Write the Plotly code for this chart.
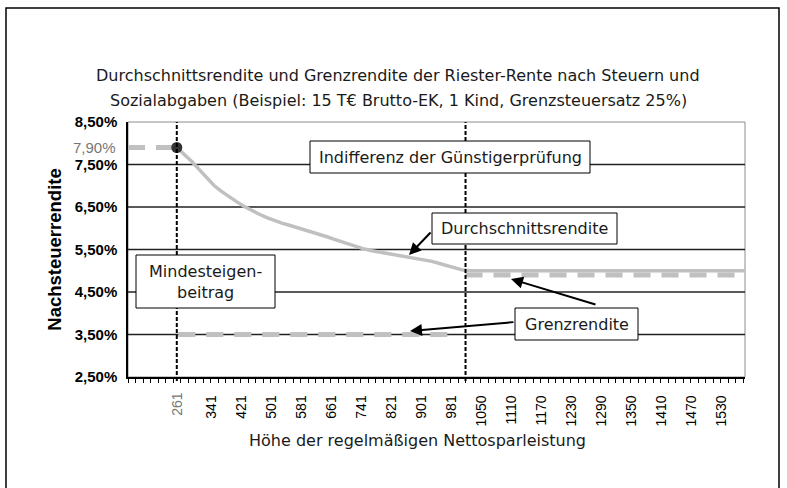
import numpy as np
import plotly.graph_objects as go

# ---------------- data ----------------
# x categories: regular net saving amount (EUR)
CATS = [141, 161, 181, 201, 221, 241,
        261, 281, 301, 321, 341, 361, 381, 401, 421, 441, 461, 481, 501, 521,
        541, 561, 581, 601, 621, 641, 661, 681, 701, 721, 741, 761, 781, 801,
        821, 841, 861, 881, 901, 921, 941, 961, 981,
        1000, 1020, 1035,
        1050, 1065, 1080, 1095, 1110, 1125, 1140, 1155, 1170, 1185, 1200, 1215,
        1230, 1245, 1260, 1275, 1290, 1305, 1320, 1335, 1350, 1365, 1380, 1395,
        1410, 1425, 1440, 1455, 1470, 1485, 1500, 1515, 1530, 1545, 1560, 1575,
        1590]

TICK_LABELS = ["341", "421", "501", "581", "661", "741", "821", "901", "981",
               "1050", "1110", "1170", "1230", "1290", "1350", "1410", "1470", "1530"]

Y_TICKS = [2.5, 3.5, 4.5, 5.5, 6.5, 7.5, 8.5]
Y_TICK_TEXT = ["2,50%", "3,50%", "4,50%", "5,50%", "6,50%", "7,50%", "8,50%"]
GRID_VALUES = [3.5, 4.5, 5.5, 6.5, 7.5]

# Durchschnittsrendite (%), categories from 261 onward
AVG_X = CATS[6:]
AVG_Y = [7.90, 7.74, 7.57, 7.38, 7.18, 7.00, 6.86, 6.73, 6.62, 6.51,
         6.41, 6.33, 6.25, 6.18, 6.12, 6.07, 6.02, 5.97, 5.92, 5.86,
         5.80, 5.74, 5.68, 5.62, 5.56, 5.51, 5.47, 5.44, 5.41, 5.38,
         5.35, 5.32, 5.29, 5.26, 5.22, 5.17, 5.12, 5.07, 5.02,
         5.00, 5.00, 5.00, 5.00, 5.00, 5.00, 5.00, 5.00, 5.00, 5.00,
         5.00, 5.00, 5.00, 5.00, 5.00, 5.00, 5.00, 5.00, 5.00, 5.00,
         5.00, 5.00, 5.00, 5.00, 5.00, 5.00, 5.00, 5.00, 5.00, 5.00,
         5.00, 5.00, 5.00, 5.00, 5.00, 5.00, 5.00, 5.00]

# Grenzrendite (%) – three flat segments
MARG_A_X = [131, 255]
MARG_A_Y = [7.90, 7.90]
MARG_B_X = [265, 990]
MARG_B_Y = [3.50, 3.50]
MARG_C_X = [1027, 1582]
MARG_C_Y = [4.90, 4.90]

MIN_CONTRIB = 261     # Mindesteigenbeitrag
MIN_RATE = 7.90
INDIFF = 1027         # Indifferenz der Günstigerprüfung

IDX = list(range(len(CATS)))


def pos(v):
    v = np.asarray(v, dtype=float)
    out = np.interp(v, CATS, IDX)
    return np.where(v < CATS[0], (v - CATS[0]) / 20.0, out)


# ---------------- layout geometry ----------------
W, H = 787, 488
PL, PR, PT, PB = 128, 745, 122, 377
X_RANGE = [-0.5, 81.7]
Y_RANGE = [2.5, 8.5]
LABEL_SHIFT = 0.6


def px2paper(px):
    return (px - PL) / (PR - PL)


def py2paper(py):
    return (PB - py) / (PB - PT)


def px2x(px):
    return X_RANGE[0] + (px - PL) / (PR - PL) * (X_RANGE[1] - X_RANGE[0])


def py2y(py):
    return Y_RANGE[0] + (PB - py) / (PB - PT) * (Y_RANGE[1] - Y_RANGE[0])


GREY = "#c0c0c0"
TXT = "#1a1a1a"
BOXFONT = dict(family="DejaVu Sans", size=16, color=TXT)

fig = go.Figure()

# average return line
fig.add_trace(go.Scatter(x=pos(AVG_X), y=AVG_Y, mode="lines",
                         line=dict(color=GREY, width=3.5), hoverinfo="skip"))
# marginal return segments
for xs, ys in [(MARG_A_X, MARG_A_Y), (MARG_B_X, MARG_B_Y), (MARG_C_X, MARG_C_Y)]:
    fig.add_trace(go.Scatter(x=pos(xs), y=ys, mode="lines",
                             line=dict(color=GREY, width=5, dash="17px,11px"),
                             hoverinfo="skip"))

shapes = []
# outer border
shapes.append(dict(type="rect", xref="paper", yref="paper",
                   x0=px2paper(6), x1=px2paper(779), y0=py2paper(510), y1=py2paper(8),
                   line=dict(color="black", width=1.5), layer="below"))
# plot frame (grey)
shapes.append(dict(type="rect", xref="paper", yref="paper", x0=0, x1=1, y0=0, y1=1,
                   line=dict(color="#8c8c8c", width=1), layer="below"))
# horizontal grid lines
for g in GRID_VALUES:
    shapes.append(dict(type="line", xref="paper", yref="y", x0=0, x1=1, y0=g, y1=g,
                       line=dict(color="#222222", width=1.4), layer="below"))
# vertical dashed lines
for v in [MIN_CONTRIB, INDIFF]:
    shapes.append(dict(type="line", xref="x", yref="paper", x0=float(pos(v)), x1=float(pos(v)),
                       y0=py2paper(381), y1=1,
                       line=dict(color="black", width=2, dash="4px,2px"), layer="above"))

# text boxes (white, black border)
BOXES = [
    ("Indifferenz der Günstigerprüfung", 310, 590, 141, 173),
    ("Durchschnittsrendite", 432, 617, 213, 244),
    ("Grenzrendite", 515, 638, 308, 340),
    ("Mindesteigen-<br>beitrag", 136, 275, 255, 308),
]
for _, x0, x1, y0, y1 in BOXES:
    shapes.append(dict(type="rect", xref="paper", yref="paper",
                       x0=px2paper(x0), x1=px2paper(x1), y0=py2paper(y1), y1=py2paper(y0),
                       line=dict(color="black", width=1), fillcolor="white", layer="above"))

# dot at minimum contribution
fig.add_trace(go.Scatter(x=pos([MIN_CONTRIB]), y=[MIN_RATE], mode="markers",
                         marker=dict(color="#333333", size=11), hoverinfo="skip"))

annotations = []
for text, x0, x1, y0, y1 in BOXES:
    annotations.append(dict(text=text, xref="paper", yref="paper",
                            x=px2paper((x0 + x1) / 2), y=py2paper((y0 + y1) / 2),
                            xanchor="center", yanchor="middle", showarrow=False,
                            font=BOXFONT, align="center"))

# arrows (tail px -> head px)
ARROWS = [((432, 231), (409, 255)), ((597, 305), (511, 279)), ((515, 322), (410, 331))]
for (tx, ty), (hx, hy) in ARROWS:
    annotations.append(dict(text="", x=px2x(hx), y=py2y(hy), xref="x", yref="y",
                            ax=px2x(tx), ay=py2y(ty), axref="x", ayref="y",
                            showarrow=True, arrowhead=2, arrowsize=1.2, arrowwidth=2,
                            arrowcolor="black"))

TITLE_FONT = dict(family="DejaVu Sans", size=16, color=TXT)
# title (two lines)
annotations.append(dict(text="Durchschnittsrendite und Grenzrendite der Riester-Rente nach Steuern und",
                        xref="paper", yref="paper", x=px2paper(398), y=py2paper(75),
                        xanchor="center", yanchor="middle", showarrow=False, font=TITLE_FONT))
annotations.append(dict(text="Sozialabgaben (Beispiel: 15 T€ Brutto-EK, 1 Kind, Grenzsteuersatz 25%)",
                        xref="paper", yref="paper", x=px2paper(398), y=py2paper(100),
                        xanchor="center", yanchor="middle", showarrow=False, font=TITLE_FONT))
# x axis title
annotations.append(dict(text="Höhe der regelmäßigen Nettosparleistung",
                        xref="paper", yref="paper", x=px2paper(417), y=py2paper(440),
                        xanchor="center", yanchor="middle", showarrow=False, font=TITLE_FONT))
# grey extra labels
annotations.append(dict(text="7,90%", xref="paper", yref="y", x=px2paper(118), y=MIN_RATE,
                        xanchor="right", yanchor="middle", showarrow=False,
                        font=dict(family="Liberation Sans", size=15, color="#777777")))
annotations.append(dict(text=str(MIN_CONTRIB), xref="x", yref="paper", x=float(pos(MIN_CONTRIB)),
                        y=py2paper(404), xanchor="center", yanchor="middle", textangle=-90,
                        showarrow=False,
                        font=dict(family="Liberation Sans", size=14, color="#777777")))

tick_pos = [CATS.index(int(t)) + LABEL_SHIFT for t in TICK_LABELS]

fig.update_layout(
    width=W, height=H,
    margin=dict(l=PL, r=W - PR, t=PT, b=H - PB, pad=0),
    paper_bgcolor="white", plot_bgcolor="white",
    showlegend=False,
    shapes=shapes, annotations=annotations,
    xaxis=dict(range=X_RANGE, showgrid=False, zeroline=False,
               showline=True, linecolor="black", linewidth=1.5,
               tickmode="array", tickvals=tick_pos, ticktext=TICK_LABELS,
               ticks="", tickangle=-90, ticklabelstandoff=11,
               tickfont=dict(family="Liberation Sans", size=14, color="black"),
               minor=dict(tickmode="linear", tick0=-0.5, dtick=1, ticks="outside",
                          ticklen=4, tickwidth=1, tickcolor="black", showgrid=False)),
    yaxis=dict(range=Y_RANGE, showgrid=False, zeroline=False,
               showline=True, linecolor="black", linewidth=1.5,
               tickmode="array", tickvals=Y_TICKS, ticktext=Y_TICK_TEXT,
               ticks="", ticklabelstandoff=6,
               tickfont=dict(family="Liberation Sans", size=15, color="black", weight="bold"),
               title=dict(text="Nachsteuerrendite", standoff=8,
                          font=dict(family="Liberation Sans", size=18.5, color="black",
                                    weight="bold"))),
)

fig.write_html("out.html", config={"displayModeBar": False},
               post_script="document.body.style.margin='0px';")
